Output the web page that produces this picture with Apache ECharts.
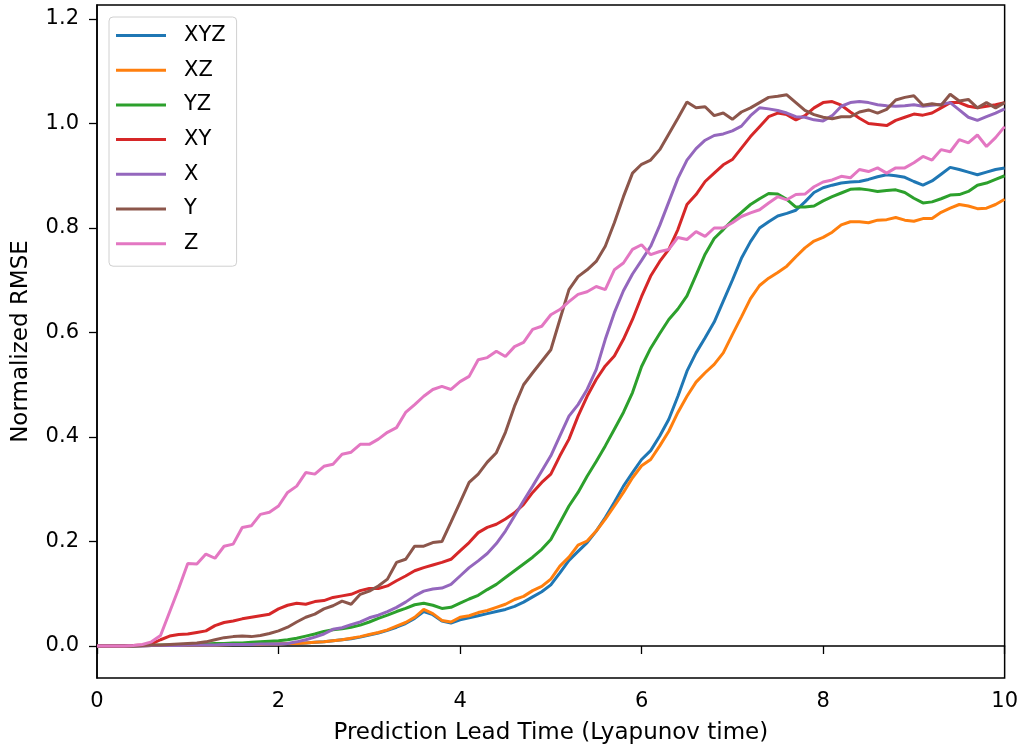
<!DOCTYPE html>
<html lang="en">
  <head>
    <meta charset="UTF-8" />
    <title>Normalized RMSE</title>
    <script src="https://cdn.jsdelivr.net/npm/echarts@6/dist/echarts.min.js"></script>
    <style>
      body { margin: 0; background: #fff; }
    </style>
  </head>

  <body>
    <div id="main" style="width: 1021px; height: 752px"></div>

    <script>
      // lead time grid: 0.0 .. 10.0 step 0.1
      var leadTime = [];
      for (var i = 0; i <= 100; i++) leadTime.push(i / 10);

      var seriesNames = ["XYZ", "XZ", "YZ", "XY", "X", "Y", "Z"];
      var colors = ["#1f77b4", "#ff7f0e", "#2ca02c", "#d62728", "#9467bd", "#8c564b", "#e377c2"];

      var xyz = [
        0, 0, 0, 0, 0, 0.0005, 0.001, 0.001, 0.001, 0.0015,
        0.002, 0.002, 0.002, 0.002, 0.0025, 0.003, 0.003, 0.003, 0.0035, 0.004,
        0.004, 0.005, 0.005, 0.006, 0.007, 0.008, 0.010, 0.012, 0.014, 0.017,
        0.021, 0.025, 0.030, 0.036, 0.043, 0.053, 0.066, 0.060, 0.048, 0.044,
        0.050, 0.054, 0.058, 0.062, 0.066, 0.070, 0.076, 0.084, 0.094, 0.104,
        0.117, 0.140, 0.164, 0.181, 0.198, 0.220, 0.246, 0.275, 0.306, 0.332,
        0.357, 0.374, 0.402, 0.434, 0.478, 0.526, 0.561, 0.590, 0.620, 0.660,
        0.700, 0.742, 0.774, 0.800, 0.812, 0.823, 0.828, 0.834, 0.850, 0.868,
        0.877, 0.882, 0.886, 0.888, 0.889, 0.893, 0.898, 0.902, 0.900, 0.897,
        0.889, 0.882, 0.890, 0.903, 0.916, 0.912, 0.907, 0.902, 0.907, 0.912,
        0.915
      ];
      var xz = [
        0, 0, 0, 0, 0, 0.0005, 0.001, 0.001, 0.001, 0.0015,
        0.002, 0.002, 0.002, 0.002, 0.0025, 0.003, 0.003, 0.003, 0.0035, 0.004,
        0.004, 0.005, 0.005, 0.006, 0.007, 0.008, 0.010, 0.012, 0.015, 0.018,
        0.022, 0.026, 0.031, 0.038, 0.045, 0.055, 0.070, 0.062, 0.049, 0.046,
        0.055, 0.058, 0.064, 0.068, 0.074, 0.080, 0.089, 0.095, 0.106, 0.114,
        0.128, 0.153, 0.170, 0.193, 0.201, 0.220, 0.243, 0.268, 0.294, 0.322,
        0.345, 0.357, 0.383, 0.411, 0.447, 0.478, 0.505, 0.523, 0.539, 0.561,
        0.596, 0.630, 0.665, 0.690, 0.704, 0.715, 0.727, 0.745, 0.762, 0.775,
        0.782, 0.792, 0.806, 0.812, 0.812, 0.810, 0.815, 0.816, 0.820, 0.815,
        0.813, 0.818, 0.818, 0.830, 0.838, 0.845, 0.842, 0.837, 0.838, 0.845,
        0.855
      ];
      var yz = [
        0, 0, 0, 0, 0, 0.001, 0.001, 0.002, 0.002, 0.003,
        0.003, 0.004, 0.004, 0.005, 0.005, 0.006, 0.006, 0.007, 0.008, 0.009,
        0.010, 0.012, 0.015, 0.019, 0.023, 0.028, 0.031, 0.033, 0.036, 0.040,
        0.046, 0.053, 0.059, 0.066, 0.072, 0.079, 0.082, 0.078, 0.072, 0.074,
        0.082, 0.090, 0.097, 0.108, 0.118, 0.131, 0.144, 0.157, 0.170, 0.185,
        0.204, 0.236, 0.268, 0.294, 0.325, 0.353, 0.383, 0.415, 0.447, 0.485,
        0.535, 0.570, 0.598, 0.625, 0.645, 0.670, 0.710, 0.750, 0.780, 0.797,
        0.815, 0.830, 0.845, 0.856, 0.866, 0.865, 0.855, 0.840, 0.840, 0.842,
        0.852, 0.860, 0.867, 0.874, 0.875, 0.873, 0.870, 0.872, 0.873, 0.868,
        0.857, 0.848, 0.850, 0.856, 0.863, 0.864, 0.870, 0.882, 0.886, 0.893,
        0.900
      ];
      var xy = [
        0, 0, 0, 0, 0.001, 0.002, 0.004, 0.012, 0.019, 0.022,
        0.023, 0.026, 0.029, 0.039, 0.045, 0.048, 0.052, 0.055, 0.058, 0.061,
        0.071, 0.078, 0.082, 0.080, 0.085, 0.087, 0.093, 0.096, 0.099, 0.106,
        0.110, 0.110, 0.115, 0.125, 0.134, 0.144, 0.150, 0.155, 0.160, 0.166,
        0.182, 0.198, 0.217, 0.227, 0.233, 0.243, 0.255, 0.271, 0.294, 0.313,
        0.329, 0.364, 0.396, 0.440, 0.478, 0.510, 0.536, 0.555, 0.587, 0.625,
        0.669, 0.708, 0.736, 0.759, 0.797, 0.845, 0.864, 0.889, 0.905, 0.921,
        0.931, 0.953, 0.975, 0.994, 1.013, 1.020, 1.017, 1.007, 1.015, 1.030,
        1.040, 1.042, 1.035, 1.022, 1.010, 1.000, 0.998, 0.996, 1.006, 1.012,
        1.018, 1.016, 1.020, 1.030, 1.040, 1.040, 1.033, 1.030, 1.033, 1.036,
        1.040
      ];
      var xOnly = [
        0, 0, 0, 0, 0, 0, 0.001, 0.001, 0.001, 0.001,
        0.002, 0.002, 0.002, 0.002, 0.003, 0.003, 0.003, 0.003, 0.004, 0.004,
        0.004, 0.005, 0.008, 0.012, 0.017, 0.023, 0.032, 0.035, 0.041, 0.046,
        0.054, 0.059, 0.066, 0.074, 0.084, 0.096, 0.105, 0.109, 0.111, 0.118,
        0.134, 0.150, 0.163, 0.177, 0.196, 0.220, 0.249, 0.278, 0.306, 0.335,
        0.364, 0.402, 0.440, 0.462, 0.491, 0.529, 0.587, 0.638, 0.680, 0.712,
        0.738, 0.765, 0.805, 0.850, 0.895, 0.930, 0.952, 0.968, 0.977, 0.980,
        0.986, 0.995, 1.015, 1.030, 1.028, 1.025, 1.020, 1.013, 1.012, 1.007,
        1.005, 1.015, 1.033, 1.040, 1.042, 1.040, 1.036, 1.034, 1.033, 1.034,
        1.036, 1.033, 1.035, 1.037, 1.040, 1.026, 1.012, 1.006, 1.013, 1.020,
        1.028
      ];
      var yOnly = [
        0, 0, 0, 0, 0, 0.001, 0.002, 0.002, 0.003, 0.004,
        0.005, 0.006, 0.008, 0.012, 0.016, 0.018, 0.019, 0.018, 0.020, 0.024,
        0.029, 0.036, 0.046, 0.055, 0.061, 0.071, 0.077, 0.086, 0.080, 0.099,
        0.105, 0.115, 0.128, 0.160, 0.166, 0.191, 0.191, 0.198, 0.200, 0.237,
        0.275, 0.313, 0.329, 0.352, 0.370, 0.409, 0.459, 0.500, 0.523, 0.545,
        0.567, 0.625, 0.682, 0.707, 0.720, 0.736, 0.765, 0.810, 0.860, 0.905,
        0.922, 0.930, 0.950, 0.980, 1.010, 1.041, 1.030, 1.032, 1.015, 1.020,
        1.008, 1.022, 1.030, 1.040, 1.050, 1.052, 1.055, 1.040, 1.025, 1.017,
        1.012, 1.009, 1.013, 1.013, 1.022, 1.026, 1.020, 1.027, 1.045, 1.050,
        1.053, 1.035, 1.038, 1.035, 1.056, 1.043, 1.046, 1.030, 1.040, 1.030,
        1.040
      ];
      var zOnly = [
        0, 0, 0, 0, 0.001, 0.003, 0.008, 0.020, 0.065, 0.110,
        0.158, 0.157, 0.176, 0.168, 0.191, 0.195, 0.227, 0.230, 0.252, 0.256,
        0.268, 0.294, 0.306, 0.332, 0.329, 0.344, 0.348, 0.367, 0.371, 0.386,
        0.386, 0.396, 0.409, 0.418, 0.447, 0.462, 0.478, 0.491, 0.497, 0.491,
        0.506, 0.516, 0.548, 0.552, 0.564, 0.554, 0.573, 0.581, 0.606, 0.612,
        0.634, 0.644, 0.659, 0.673, 0.678, 0.688, 0.682, 0.720, 0.733, 0.759,
        0.768, 0.749, 0.755, 0.759, 0.782, 0.778, 0.793, 0.784, 0.800, 0.800,
        0.810, 0.822, 0.829, 0.835, 0.848, 0.860, 0.854, 0.864, 0.865, 0.879,
        0.888, 0.892, 0.899, 0.896, 0.912, 0.908, 0.915, 0.905, 0.915, 0.915,
        0.925, 0.937, 0.930, 0.950, 0.946, 0.969, 0.963, 0.978, 0.956, 0.973,
        0.994
      ];

      var yTicks = [0, 0.2, 0.4, 0.6, 0.8, 1.0, 1.2];

      var allValues = [xyz, xz, yz, xy, xOnly, yOnly, zOnly];
      var font = "DejaVu Sans";

      var series = seriesNames.map(function (name, k) {
        return {
          name: name,
          type: "line",
          showSymbol: false,
          symbol: "none",
          lineStyle: { width: 3, color: colors[k] },
          itemStyle: { color: colors[k] },
          data: leadTime.map(function (t, i) {
            return [t, allValues[k][i]];
          }),
        };
      });

      var myChart = echarts.init(document.getElementById("main"));
      var option = {
        animation: false,
        backgroundColor: "#fff",
        grid: {
          left: 97,
          right: 16,
          top: 5,
          bottom: 74,
          show: true,
          borderColor: "#000",
          borderWidth: 1.5,
          containLabel: false,
        },
        legend: {
          orient: "vertical",
          left: 109,
          top: 17,
          icon: "rect",
          itemWidth: 50,
          itemHeight: 3,
          itemGap: 13.7,
          padding: [8, 11, 12, 7],
          borderColor: "#d0d0d0",
          borderWidth: 1,
          borderRadius: 4,
          backgroundColor: "rgba(255,255,255,0.8)",
          textStyle: {
            fontFamily: font,
            fontSize: 21,
            lineHeight: 21,
            color: "#000",
            padding: [0, 0, 0, 13],
          },
          data: seriesNames,
        },
        xAxis: {
          type: "value",
          min: 0,
          max: 10,
          interval: 2,
          name: "Prediction Lead Time (Lyapunov time)",
          nameLocation: "middle",
          nameGap: 44,
          nameTextStyle: { fontFamily: font, fontSize: 23, color: "#000" },
          axisLine: { show: true, lineStyle: { color: "#000", width: 1.5 } },
          axisTick: { show: true, inside: false, length: 8, lineStyle: { color: "#000", width: 1.3 } },
          axisLabel: { fontFamily: font, fontSize: 21, color: "#000", margin: 13 },
          splitLine: { show: false },
        },
        yAxis: {
          type: "value",
          min: -0.0612,
          max: 1.2268,
          name: "Normalized RMSE",
          nameLocation: "middle",
          nameGap: 64,
          nameTextStyle: { fontFamily: font, fontSize: 23, color: "#000" },
          axisLine: { show: true, lineStyle: { color: "#000", width: 1.5 } },
          axisTick: {
            show: true,
            inside: false,
            length: 8,
            customValues: yTicks,
            lineStyle: { color: "#000", width: 1.3 },
          },
          axisLabel: {
            fontFamily: font,
            fontSize: 21,
            color: "#000",
            margin: 18,
            customValues: yTicks,
            formatter: function (v) {
              return v.toFixed(1);
            },
          },
          splitLine: { show: false },
        },
        series: series,
      };
      myChart.setOption(option);
    </script>
  </body>
</html>
